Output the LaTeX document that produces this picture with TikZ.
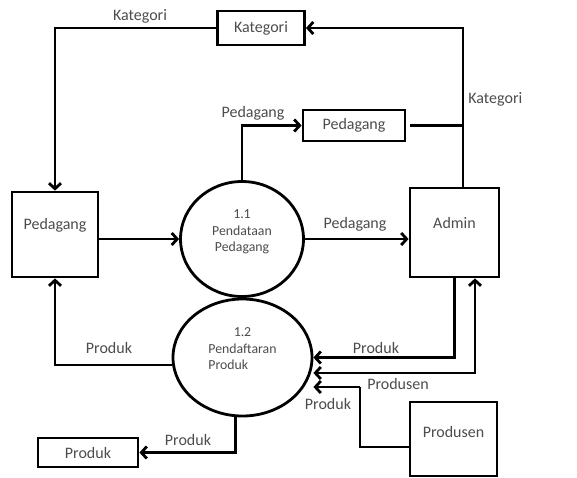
\documentclass[tikz,border=0pt]{standalone}
\usepackage{fontspec}
\setmainfont{Carlito}
\usetikzlibrary{arrows.meta,shapes.geometric}
\begin{document}
\begin{tikzpicture}[
  x=1pt, y=-1pt,
  line width=2.8pt,
  font=\fontsize{16}{18}\selectfont, text=black!70,
  entity/.style={draw, rectangle, inner sep=0pt},
  store/.style={draw, rectangle, inner sep=0pt},
  proc/.style={draw, ellipse, inner sep=0pt},
  ptext/.style={align=center, font=\fontsize{13.8}{16.5}\selectfont},
  flow/.style={-{Straight Barb[length=5.5pt,width=12pt]}},
  biflow/.style={{Straight Barb[length=5.5pt,width=12pt]}-{Straight Barb[length=5.5pt,width=12pt]}},
  tag/.style={inner sep=0pt}
]
  \useasboundingbox (0,0) rectangle (577,477);

  % Data stores
  \node[store, minimum width=87pt, minimum height=34pt] (kat) at (261,28) {Kategori};
  \node[store, minimum width=102pt, minimum height=31pt] (pstore) at (354,125.5) {Pedagang};
  \node[store, minimum width=100pt, minimum height=29pt] (prodS) at (88,452.5) {Produk};

  % External entities
  \node[entity, minimum width=86pt, minimum height=85pt, label={[yshift=9.5pt]center:Pedagang}] (ped) at (55,234.5) {};
  \node[entity, minimum width=89pt, minimum height=89pt, label={[yshift=9.5pt]center:Admin}] (adm) at (454.5,232.5) {};
  \node[entity, minimum width=87pt, minimum height=74pt, label={[yshift=7pt]center:Produsen}] (prodn) at (453.5,439) {};

  % Processes
  \node[proc, minimum width=123pt, minimum height=115pt,
        label={[ptext, yshift=7pt]center:1.1\\Pendataan\\Pedagang}] (p11) at (242,239) {};
  \node[proc, minimum width=139pt, minimum height=117pt,
        label={[ptext, yshift=7.5pt]center:{\begin{tabular}{@{}l@{}}\multicolumn{1}{@{}c@{}}{1.2}\\Pendaftaran\\Produk\end{tabular}}}] (p12) at (242.5,357.5) {};

  % Helper points
  \coordinate (katR) at (463,188);
  \coordinate (bend) at (360,387);

  % Kategori flows
  \draw[flow] (kat.west) -| (ped.north);
  \draw[flow] (katR) |- (kat.east);
  \draw[shorten <=4pt] (pstore.east) -- (pstore.east -| katR);
  \node[tag] (lkat1) at (140,16) {Kategori};
  \node[tag, anchor=west] (lkat2) at (467,99) {Kategori};

  % Pedagang flows
  \draw[flow] (p11.north) |- (pstore.west);
  \draw[flow] (ped.east |- p11.west) -- (p11.west);
  \draw[flow] (p11.east) -- (p11.east -| adm.west);
  \node[tag] (lped1) at (253,113) {Pedagang};
  \node[tag] (lped2) at (355,224) {Pedagang};

  % Produk / Produsen flows
  \draw[flow] (p12.west |- 0,365) -| (ped.south);
  \draw[flow] (p12.263) |- (prodS.east);
  \draw[flow] (adm.south) |- (p12.east);
  \draw[biflow] (p12.east |- 0,373) -| (adm.south -| 475,0);
  \draw (prodn.west |- 0,447) -| (bend);
  \draw[flow] (bend) -- (p12.east |- bend);
  \node[tag] (lprod1) at (109,348) {Produk};
  \node[tag] (lprod2) at (188,440) {Produk};
  \node[tag] (lprod3) at (376,348) {Produk};
  \node[tag] (lprodn) at (398,384) {Produsen};
  \node[tag] (lprod4) at (328,404) {Produk};

\end{tikzpicture}
\end{document}
